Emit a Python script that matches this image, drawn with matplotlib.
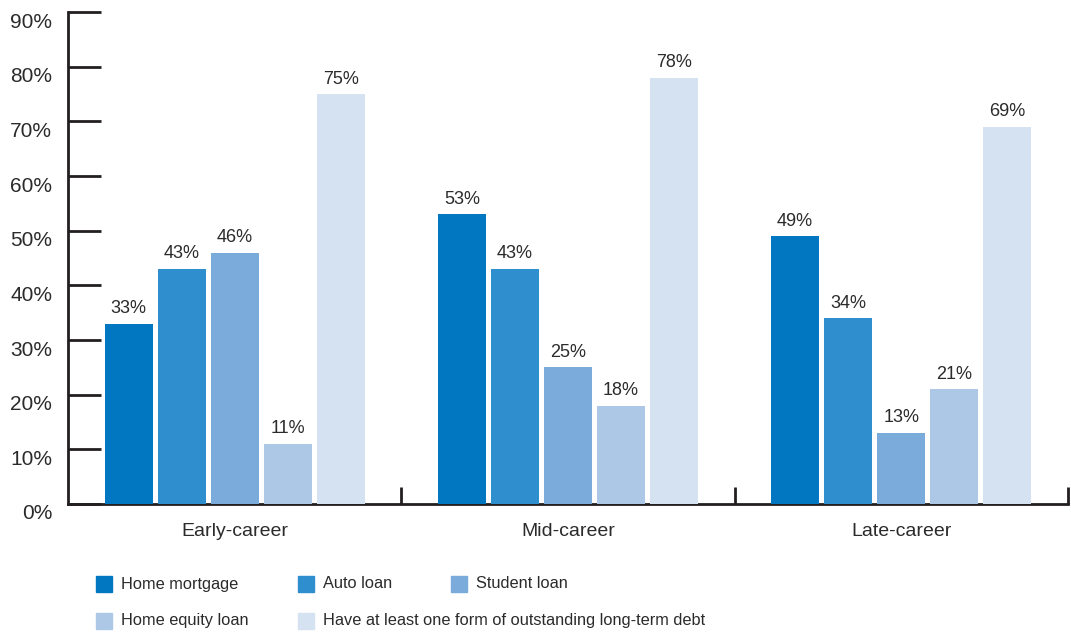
import numpy as np
import matplotlib.pyplot as plt
import matplotlib.transforms as mtransforms
from matplotlib.patches import Rectangle

plt.rcParams['font.family'] = ['Liberation Sans', 'DejaVu Sans']

groups = ["Early-career", "Mid-career", "Late-career"]
series = ["Home mortgage", "Auto loan", "Student loan", "Home equity loan",
          "Have at least one form of outstanding long-term debt"]
home_mortgage = [33, 53, 49]
auto_loan = [43, 43, 34]
student_loan = [46, 25, 13]
home_equity = [11, 18, 21]
any_debt = [75, 78, 69]
values = [home_mortgage, auto_loan, student_loan, home_equity, any_debt]
colors = ["#0077c0", "#2e8ece", "#7aabdb", "#adc8e6", "#d5e2f2"]
ytick_vals = list(range(0, 100, 10))
txt = "#2b2b2b"

fig = plt.figure(figsize=(10.71, 6.33), dpi=100)
ax = fig.add_axes([0.0635, 0.2038, 0.9335, 0.777])

centers = np.arange(len(groups)) + 0.5
width = 0.144
step = 0.159
for i, (vals, col) in enumerate(zip(values, colors)):
    x = centers + (i - 2) * step
    bars = ax.bar(x, vals, width=width, color=col, zorder=3)
    for b, v in zip(bars, vals):
        ax.text(b.get_x() + b.get_width() / 2, v + 1.2, f"{v}%",
                ha="center", va="bottom", fontsize=13, color=txt)

ax.set_xlim(0, 3)
ax.set_ylim(0, 90)
ax.set_yticks(ytick_vals)
ax.set_yticklabels([f"{v}%" for v in ytick_vals], fontsize=15, color=txt)
ax.tick_params(axis="y", direction="in", length=24, width=2, color="#231f20", pad=11.5)
# labels sit a little below their ticks in the original
shift = mtransforms.ScaledTranslation(0, -0.08, fig.dpi_scale_trans)
for lab in ax.get_yticklabels():
    lab.set_transform(lab.get_transform() + shift)

ax.set_xticks([1, 2, 3])
ax.set_xticklabels([])
ax.tick_params(axis="x", direction="in", length=12, width=2, color="#231f20")
for c, g in zip(centers, groups):
    ax.text(c, -3.5, g, ha="center", va="top", fontsize=14, color=txt)

for s in ["top", "right"]:
    ax.spines[s].set_visible(False)
for s in ["left", "bottom"]:
    ax.spines[s].set_linewidth(2)
    ax.spines[s].set_color("#231f20")

# legend drawn manually to match the overlapping column layout
leg_pos = [(96, 584), (298, 584), (451, 584), (96, 621), (298, 621)]
W, H = 1071, 633
for (px, py), name, col in zip(leg_pos, series, colors):
    fig.patches.append(Rectangle((px / W, (H - py - 8) / H), 16 / W, 16 / H,
                                 transform=fig.transFigure, color=col))
    fig.text((px + 25) / W, (H - py) / H, name, va="center", ha="left",
             fontsize=11.8, color=txt)

fig.savefig("out.png", dpi=100)
